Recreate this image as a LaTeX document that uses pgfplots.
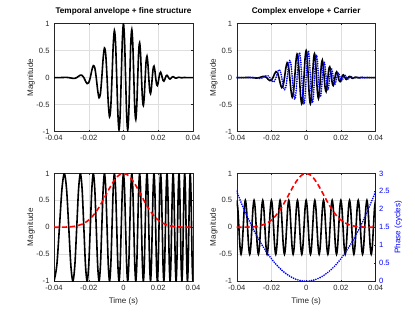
\documentclass[border=0pt]{standalone}
\usepackage{pgfplots}
\pgfplotsset{compat=1.18}
\usepackage{pgfplotstable}
\usepackage{fontspec}
\setmainfont{Liberation Sans}
\definecolor{axgray}{gray}{0.15}
\definecolor{gridc}{gray}{0.87}
\definecolor{mblue}{rgb}{0,0,1}
\definecolor{mred}{rgb}{1,0,0}

\pgfplotstableread{
t c y h q
-0.040000 -1 -0.0003 -0.0002 0
-0.038388 -0.7071 -0.0004 -0.0002 -0.0002
-0.036871 0 0 0 -0.0006
-0.035434 0.7071 0.0013 0.0007 -0.0007
-0.034067 1 0.0030 0.0015 0
-0.032759 0.7071 0.0033 0.0017 0.0017
-0.031504 0 0 0 0.0035
-0.030295 -0.7071 -0.0072 -0.0036 0.0036
-0.029129 -1 -0.0144 -0.0072 0
-0.028000 -0.7071 -0.0140 -0.0070 -0.0070
-0.026906 0 0 0 -0.0134
-0.025842 0.7071 0.0251 0.0125 -0.0125
-0.024808 1 0.0461 0.0230 0
-0.023801 0.7071 0.0416 0.0208 0.0208
-0.022817 0 0 0 0.0370
-0.021857 -0.7071 -0.0649 -0.0324 0.0324
-0.020919 -1 -0.1121 -0.0561 0
-0.020000 -0.7071 -0.0957 -0.0478 -0.0478
-0.019100 0 0 0 -0.0807
-0.018218 0.7071 0.1345 0.0673 -0.0673
-0.017352 1 0.2219 0.1110 0
-0.016503 0.7071 0.1812 0.0906 0.0906
-0.015668 0 0 0 0.1465
-0.014847 -0.7071 -0.2349 -0.1174 0.1174
-0.014040 -1 -0.3732 -0.1866 0
-0.013246 -0.7071 -0.2941 -0.1470 -0.1470
-0.012464 0 0 0 -0.2300
-0.011693 0.7071 0.3569 0.1785 -0.1785
-0.010934 1 0.5500 0.2750 0
-0.010186 0.7071 0.4209 0.2105 0.2105
-0.009447 0 0 0 0.3200
-0.008719 -0.7071 -0.4835 -0.2418 0.2418
-0.008000 -1 -0.7262 -0.3631 0
-0.007290 -0.7071 -0.5421 -0.2711 -0.2711
-0.006589 0 0 0 -0.4024
-0.005897 0.7071 0.5942 0.2971 -0.2971
-0.005212 1 0.8730 0.4365 0
-0.004536 0.7071 0.6380 0.3190 0.3190
-0.003867 0 0 0 0.4640
-0.003205 -0.7071 -0.6717 -0.3358 0.3358
-0.002551 -1 -0.9680 -0.4840 0
-0.001903 -0.7071 -0.6944 -0.3472 -0.3472
-0.001262 0 0 0 -0.4960
-0.000628 0.7071 0.7057 0.3529 -0.3529
0 1 1 0.5 0
0.000622 0.7071 0.7057 0.3529 0.3529
0.001238 0 0 0 0.4962
0.001848 -0.7071 -0.6951 -0.3476 0.3476
0.002453 -1 -0.9704 -0.4852 0
0.003052 -0.7071 -0.6749 -0.3375 -0.3375
0.003646 0 0 0 -0.4678
0.004235 0.7071 0.6464 0.3232 -0.3232
0.004819 1 0.8904 0.4452 0
0.005397 0.7071 0.6113 0.3056 0.3056
0.005971 0 0 0 0.4184
0.006541 -0.7071 -0.5709 -0.2855 0.2855
0.007106 -1 -0.7769 -0.3884 0
0.007666 -0.7071 -0.5271 -0.2635 -0.2635
0.008222 0 0 0 -0.3566
0.008774 0.7071 0.4812 0.2406 -0.2406
0.009321 1 0.6476 0.3238 0
0.009865 0.7071 0.4347 0.2173 0.2173
0.010404 0 0 0 0.2910
0.010940 -0.7071 -0.3887 -0.1943 0.1943
0.011472 -1 -0.5179 -0.2589 0
0.012000 -0.7071 -0.3442 -0.1721 -0.1721
0.012525 0 0 0 -0.2282
0.013045 0.7071 0.3020 0.1510 -0.1510
0.013563 1 0.3986 0.1993 0
0.014077 0.7071 0.2625 0.1313 0.1313
0.014588 0 0 0 0.1725
0.015095 -0.7071 -0.2263 -0.1131 0.1131
0.015599 -1 -0.2962 -0.1481 0
0.016100 -0.7071 -0.1935 -0.0967 -0.0967
0.016598 0 0 0 -0.1261
0.017093 0.7071 0.1641 0.0820 -0.0820
0.017584 1 0.2131 0.1066 0
0.018073 0.7071 0.1381 0.0691 0.0691
0.018559 0 0 0 0.0893
0.019042 -0.7071 -0.1154 -0.0577 0.0577
0.019522 -1 -0.1487 -0.0744 0
0.020000 -0.7071 -0.0957 -0.0478 -0.0478
0.020475 0 0 0 -0.0615
0.020947 0.7071 0.0788 0.0394 -0.0394
0.021417 1 0.1009 0.0505 0
0.021884 0.7071 0.0645 0.0322 0.0322
0.022348 0 0 0 0.0412
0.022810 -0.7071 -0.0524 -0.0262 0.0262
0.023270 -1 -0.0667 -0.0334 0
0.023727 -0.7071 -0.0424 -0.0212 -0.0212
0.024182 0 0 0 -0.0269
0.024634 0.7071 0.0340 0.0170 -0.0170
0.025084 1 0.0430 0.0215 0
0.025532 0.7071 0.0272 0.0136 0.0136
0.025978 0 0 0 0.0171
0.026421 -0.7071 -0.0216 -0.0108 0.0108
0.026863 -1 -0.0271 -0.0136 0
0.027302 -0.7071 -0.0170 -0.0085 -0.0085
0.027739 0 0 0 -0.0107
0.028174 0.7071 0.0134 0.0067 -0.0067
0.028607 1 0.0167 0.0084 0
0.029038 0.7071 0.0104 0.0052 0.0052
0.029467 0 0 0 0.0065
0.029894 -0.7071 -0.0081 -0.0041 0.0041
0.030319 -1 -0.0101 -0.0051 0
0.030742 -0.7071 -0.0063 -0.0031 -0.0031
0.031163 0 0 0 -0.0039
0.031582 0.7071 0.0048 0.0024 -0.0024
0.032000 1 0.0060 0.0030 0
0.032416 0.7071 0.0037 0.0018 0.0018
0.032830 0 0 0 0.0023
0.033242 -0.7071 -0.0028 -0.0014 0.0014
0.033652 -1 -0.0035 -0.0018 0
0.034061 -0.7071 -0.0021 -0.0011 -0.0011
0.034468 0 0 0 -0.0013
0.034874 0.7071 0.0016 0.0008 -0.0008
0.035277 1 0.0020 0.0010 0
0.035679 0.7071 0.0012 0.0006 0.0006
0.036080 0 0 0 0.0007
0.036479 -0.7071 -0.0009 -0.0005 0.0005
0.036876 -1 -0.0011 -0.0006 0
0.037272 -0.7071 -0.0007 -0.0004 -0.0003
0.037666 0 0 0 -0.0004
0.038059 0.7071 0.0005 0.0003 -0.0003
0.038450 1 0.0006 0.0003 0
0.038840 0.7071 0.0004 0.0002 0.0002
0.039228 0 0 0 0.0002
0.039615 -0.7071 -0.0003 -0.0002 0.0001
0.040000 -1 -0.0003 -0.0002 0
}\chirp

\pgfplotstableread{
t g p
-0.040 0.0003 2.5
-0.038 0.0007 2.25625
-0.036 0.0015 2.025
-0.034 0.0031 1.80625
-0.032 0.0060 1.6
-0.030 0.0111 1.40625
-0.028 0.0198 1.225
-0.026 0.0341 1.05625
-0.024 0.0561 0.9
-0.022 0.0889 0.75625
-0.020 0.1353 0.625
-0.018 0.1979 0.50625
-0.016 0.2780 0.4
-0.014 0.3753 0.30625
-0.012 0.4868 0.225
-0.010 0.6065 0.15625
-0.008 0.7262 0.1
-0.006 0.8353 0.05625
-0.004 0.9231 0.025
-0.002 0.9802 0.00625
0 1 0
0.002 0.9802 0.00625
0.004 0.9231 0.025
0.006 0.8353 0.05625
0.008 0.7262 0.1
0.010 0.6065 0.15625
0.012 0.4868 0.225
0.014 0.3753 0.30625
0.016 0.2780 0.4
0.018 0.1979 0.50625
0.020 0.1353 0.625
0.022 0.0889 0.75625
0.024 0.0561 0.9
0.026 0.0341 1.05625
0.028 0.0198 1.225
0.030 0.0111 1.40625
0.032 0.0060 1.6
0.034 0.0031 1.80625
0.036 0.0015 2.025
0.038 0.0007 2.25625
0.040 0.0003 2.5
}\env

\pgfplotstableread{
t v
-0.04 0.5
-0.039375 0.3536
-0.03875 0
-0.038125 -0.3536
-0.0375 -0.5
-0.036875 -0.3536
-0.03625 0
-0.035625 0.3536
-0.035 0.5
-0.034375 0.3536
-0.03375 0
-0.033125 -0.3536
-0.0325 -0.5
-0.031875 -0.3536
-0.03125 0
-0.030625 0.3536
-0.03 0.5
-0.029375 0.3536
-0.02875 0
-0.028125 -0.3536
-0.0275 -0.5
-0.026875 -0.3536
-0.02625 0
-0.025625 0.3536
-0.025 0.5
-0.024375 0.3536
-0.02375 0
-0.023125 -0.3536
-0.0225 -0.5
-0.021875 -0.3536
-0.02125 0
-0.020625 0.3536
-0.02 0.5
-0.019375 0.3536
-0.01875 0
-0.018125 -0.3536
-0.0175 -0.5
-0.016875 -0.3536
-0.01625 0
-0.015625 0.3536
-0.015 0.5
-0.014375 0.3536
-0.01375 0
-0.013125 -0.3536
-0.0125 -0.5
-0.011875 -0.3536
-0.01125 0
-0.010625 0.3536
-0.01 0.5
-0.009375 0.3536
-0.00875 0
-0.008125 -0.3536
-0.0075 -0.5
-0.006875 -0.3536
-0.00625 0
-0.005625 0.3536
-0.005 0.5
-0.004375 0.3536
-0.00375 0
-0.003125 -0.3536
-0.0025 -0.5
-0.001875 -0.3536
-0.00125 0
-0.000625 0.3536
0 0.5
0.000625 0.3536
0.00125 0
0.001875 -0.3536
0.0025 -0.5
0.003125 -0.3536
0.00375 0
0.004375 0.3536
0.005 0.5
0.005625 0.3536
0.00625 0
0.006875 -0.3536
0.0075 -0.5
0.008125 -0.3536
0.00875 0
0.009375 0.3536
0.01 0.5
0.010625 0.3536
0.01125 0
0.011875 -0.3536
0.0125 -0.5
0.013125 -0.3536
0.01375 0
0.014375 0.3536
0.015 0.5
0.015625 0.3536
0.01625 0
0.016875 -0.3536
0.0175 -0.5
0.018125 -0.3536
0.01875 0
0.019375 0.3536
0.02 0.5
0.020625 0.3536
0.02125 0
0.021875 -0.3536
0.0225 -0.5
0.023125 -0.3536
0.02375 0
0.024375 0.3536
0.025 0.5
0.025625 0.3536
0.02625 0
0.026875 -0.3536
0.0275 -0.5
0.028125 -0.3536
0.02875 0
0.029375 0.3536
0.03 0.5
0.030625 0.3536
0.03125 0
0.031875 -0.3536
0.0325 -0.5
0.033125 -0.3536
0.03375 0
0.034375 0.3536
0.035 0.5
0.035625 0.3536
0.03625 0
0.036875 -0.3536
0.0375 -0.5
0.038125 -0.3536
0.03875 0
0.039375 0.3536
0.04 0.5
}\carrier

\pgfplotsset{
  base/.style={
    scale only axis, width=138.9bp, height=107.8bp,
    anchor=south west,
    xmin=-0.04, xmax=0.04, ymin=-1, ymax=1,
    scaled x ticks=false, scaled y ticks=false,
    xtick={-0.04,-0.02,0,0.02,0.04}, xticklabels={-0.04,-0.02,0,0.02,0.04},
    ytick={-1,-0.5,0,0.5,1}, yticklabels={-1,-0.5,0,0.5,1},
    tick align=inside, major tick length=1.4bp,
    grid=major, grid style={gridc, line width=0.4bp},
    axis line style={axgray, line width=0.4bp},
    tick style={axgray, line width=0.4bp},
    ticklabel style={font=\fontsize{7.6bp}{8bp}\selectfont, text=axgray},
    yticklabel style={xshift=-1bp},
    label style={font=\fontsize{8.1bp}{9bp}\selectfont, text=axgray},
    ylabel={Magnitude},
    ylabel style={at={(axis description cs:-0.165,0.5)}, anchor=center},
    xlabel style={at={(axis description cs:0.5,-0.208)}, anchor=base},
    title style={at={(axis description cs:0.5,1)}, anchor=south, yshift=1bp, inner sep=1bp, font=\bfseries\fontsize{8.2bp}{9bp}\selectfont},
  },
  blk/.style={black, line width=1.6bp, smooth},
  rdash/.style={mred, line width=1.6bp, smooth, dash pattern=on 5bp off 3bp},
  bdot/.style={mblue, line width=1.9bp, line cap=round, dash pattern=on 0bp off 2.3bp},
}

\begin{document}
\begin{tikzpicture}
\path[use as bounding box] (0,0) rectangle (415bp,316bp);

% top left
\begin{axis}[base, at={(54bp,184.5bp)}, title={Temporal anvelope + fine structure}]
\addplot[blk] table[x=t,y=y] {\chirp};
\end{axis}

% top right
\begin{axis}[base, at={(236.7bp,184.5bp)}, title={Complex envelope + Carrier}]
\addplot[blk] table[x=t,y=h] {\chirp};
\addplot[bdot, smooth] table[x=t,y=q] {\chirp};
\end{axis}

% bottom left
\begin{axis}[base, at={(54bp,34.8bp)}, xlabel={Time (s)}]
\addplot[blk] table[x=t,y=c] {\chirp};
\addplot[rdash] table[x=t,y=g] {\env};
\end{axis}

% bottom right (left axis)
\begin{axis}[base, at={(236.7bp,34.8bp)}, xlabel={Time (s)}, ytick pos=left]
\addplot[blk] table[x=t,y=v] {\carrier};
\addplot[rdash] table[x=t,y=g] {\env};
\end{axis}

% bottom right (right axis)
\begin{axis}[scale only axis, width=138.9bp, height=107.8bp,
    anchor=south west, at={(236.7bp,34.8bp)},
    xmin=-0.04, xmax=0.04, ymin=0, ymax=3,
    axis x line=none, axis y line*=right,
    ytick={0,0.5,1,1.5,2,2.5,3}, yticklabels={0,0.5,1,1.5,2,2.5,3},
    tick align=inside, major tick length=1.4bp,
    y axis line style={mblue, line width=0.4bp},
    tick style={mblue, line width=0.4bp},
    ticklabel style={font=\fontsize{7.6bp}{8bp}\selectfont, text=mblue},
    ylabel={Phase (cycles)},
    ylabel style={font=\fontsize{8.1bp}{9bp}\selectfont, text=mblue, at={(axis description cs:1.163,0.5)}, anchor=center},
  ]
\addplot[bdot, smooth] table[x=t,y=p] {\env};
\end{axis}
\end{tikzpicture}
\end{document}
